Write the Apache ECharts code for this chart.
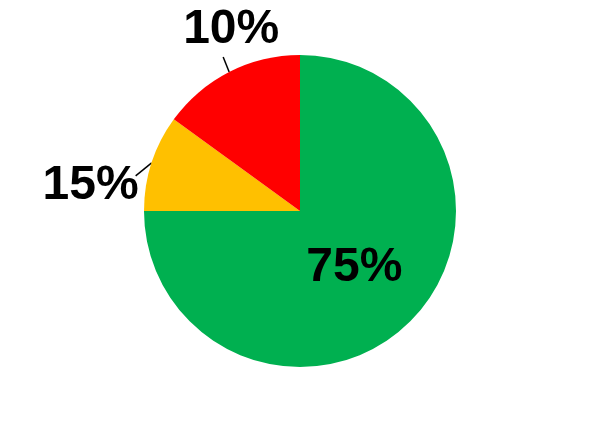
<!DOCTYPE html>
<html>
<head>
<meta charset="utf-8">
<script src="https://cdn.jsdelivr.net/npm/echarts@6/dist/echarts.min.js"></script>
<style>
  html, body { margin: 0; padding: 0; background: #fff; }
  #chart { width: 600px; height: 421px; }
</style>
</head>
<body>
<div id="chart"></div>
<script>
// slice values as drawn, and the label text shown next to each slice
var sliceNames = ['A', 'B', 'C'];
var sliceValues = [75, 10, 15];
var sliceLabels = ['75%', '15%', '10%'];
var sliceColors = ['#00B050', '#FFC000', '#FF0000'];

var myChart = echarts.init(document.getElementById('chart'));

var data = sliceValues.map(function (v, i) {
    var item = {
        name: sliceNames[i],
        value: v,
        itemStyle: { color: sliceColors[i] }
    };
    if (i === 0) {
        item.label = { position: 'inside', offset: [-3, -1] };
        item.labelLine = { show: false };
    }
    return item;
});

var option = {
    animation: false,
    backgroundColor: '#fff',
    series: [{
        type: 'pie',
        center: [300, 211],
        radius: 156,
        startAngle: 90,
        clockwise: true,
        avoidLabelOverlap: false,
        data: data,
        label: {
            show: true,
            position: 'outside',
            formatter: function (p) {
                return sliceLabels[p.dataIndex];
            },
            color: '#000',
            fontSize: 48,
            fontWeight: 'bold',
            fontFamily: 'Arial, "Liberation Sans", sans-serif'
        },
        labelLine: {
            show: true,
            length: 16,
            length2: 0,
            lineStyle: { color: '#000', width: 1.5 }
        },
        labelLayout: function (params) {
            var pts = params.labelLinePoints;
            if (!pts) return {};
            var s = pts[0];
            if (params.dataIndex === 2) {
                var e = [s[0] - 6, s[1] - 15];
                return {
                    x: s[0] + 2,
                    y: s[1] - 42,
                    align: 'center',
                    verticalAlign: 'middle',
                    labelLinePoints: [s, e, e]
                };
            }
            if (params.dataIndex === 1) {
                var e2 = [s[0] - 16, s[1] + 13];
                return {
                    x: s[0] - 13,
                    y: s[1] + 23,
                    align: 'right',
                    verticalAlign: 'middle',
                    labelLinePoints: [s, e2, e2]
                };
            }
            return {};
        }
    }]
};

option && myChart.setOption(option);
</script>
</body>
</html>
